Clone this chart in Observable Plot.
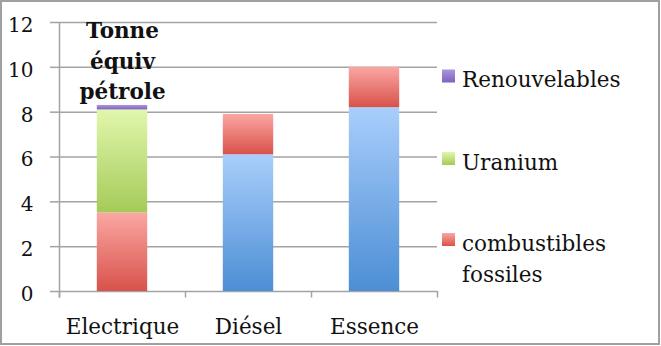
<!DOCTYPE html>
<html><head><meta charset="utf-8">
<script src="https://cdn.jsdelivr.net/npm/d3@7"></script>
<script src="https://cdn.jsdelivr.net/npm/@observablehq/plot@0.6"></script>
<style>body{margin:0;background:#fff} #chart{width:661px;height:346px}</style>
</head><body><div id="chart"></div>
<script>
const categories = ["Electrique", "Diésel", "Essence"];
const seriesKeys = ["petrole", "fossiles", "uranium", "renouvelables"];
const petrole = [0, 6.1, 8.2];
const fossiles = [3.5, 1.8, 1.8];
const uranium = [4.6, 0, 0];
const renouvelables = [0.2, 0, 0];
const yTicks = [0, 2, 4, 6, 8, 10, 12];
const titleLines = ["Tonne", "équiv", "pétrole"];
const legendKeys = ["renouvelables", "uranium", "fossiles"];
const legendLabels = [["Renouvelables"], ["Uranium"], ["combustibles", "fossiles"]];
const gradients = {
  petrole: ["#a9cefb", "#4c8ed5"],
  fossiles: ["#fba7a3", "#d8524a"],
  uranium: ["#e1f7ad", "#a5ca58"],
  renouvelables: ["#ab96dc", "#7e62bc"]
};

const series = {petrole, fossiles, uranium, renouvelables};
const data = seriesKeys.flatMap(k => categories.map((c, i) => ({cat: c, key: k, value: series[k][i]})))
  .filter(d => d.value > 0);

const W = 661, H = 346, mL = 59, mR = 224, mT = 22, mB = 55;
const step = (W - mL - mR) / categories.length;
const grid = "#a3a3a3";
const ink = "#111";
const font = "'DejaVu Serif', serif";

const chart = Plot.plot({
  width: W, height: H,
  marginLeft: mL, marginRight: mR, marginTop: mT, marginBottom: mB,
  style: {fontFamily: font, background: "#fff", color: ink},
  x: {domain: categories, paddingInner: 0.6, paddingOuter: 0.3, round: false, label: null},
  y: {domain: [0, 12], label: null},
  color: {type: "identity"},
  marks: [
    Plot.gridY(yTicks, {stroke: grid, strokeOpacity: 1, strokeWidth: 1.5}),
    Plot.axisY(yTicks, {tickSize: 9, stroke: grid, strokeWidth: 1.5, fill: "none", label: null}),
    Plot.axisY(yTicks, {tickSize: 9, tickPadding: 17, stroke: "none", fill: ink, fontSize: 20, dy: 3, label: null}),
    Plot.axisX({tickSize: 0, tickPadding: 27, fill: ink, fontSize: 21.5, label: null}),
    Plot.ruleX([categories[0]], {x: d => d, y1: 12, y2: 0, dx: -step / 2, insetBottom: -6.5, stroke: grid, strokeWidth: 1.5}),
    Plot.ruleX(categories, {x: d => d, y1: 0, y2: 0, dx: -step / 2, insetBottom: -6.5, stroke: grid, strokeWidth: 1.5}),
    Plot.ruleX([categories[categories.length - 1]], {x: d => d, y1: 0, y2: 0, dx: step / 2, insetBottom: -6.5, stroke: grid, strokeWidth: 1.5}),
    Plot.barY(data, Plot.stackY({x: "cat", y: "value", z: "key", fill: d => `url(#g-${d.key})`})),
    Plot.text([titleLines.join("\n")], {x: () => categories[0], frameAnchor: "top", lineAnchor: "top",
      fontSize: 21.5, fontWeight: "bold", lineHeight: 1.42, dy: -6, fill: ink})
  ]
});

const svg = d3.select(chart);
const defs = svg.insert("defs", ":first-child");
for (const [k, [c0, c1]] of Object.entries(gradients)) {
  const g = defs.append("linearGradient").attr("id", "g-" + k)
    .attr("x1", 0).attr("y1", 0).attr("x2", 0).attr("y2", 1);
  g.append("stop").attr("offset", "0%").attr("stop-color", c0);
  g.append("stop").attr("offset", "100%").attr("stop-color", c1);
}

const legend = svg.append("g").attr("font-family", font).attr("font-size", 21.5)
  .attr("fill", ink).attr("text-anchor", "start");
const legendTops = [69.5, 152, 233];
legendKeys.forEach((k, i) => {
  const top = legendTops[i];
  legend.append("rect").attr("x", 442).attr("y", top).attr("width", 13).attr("height", 13)
    .attr("fill", `url(#g-${k})`);
  const t = legend.append("text").attr("x", 462).attr("y", top + 17.5);
  legendLabels[i].forEach((line, j) => {
    t.append("tspan").attr("x", 462).attr("dy", j === 0 ? 0 : 31).text(line);
  });
});

svg.append("rect").attr("x", 1).attr("y", 1).attr("width", 658).attr("height", 343)
  .attr("fill", "none").attr("stroke", "#a0a0a0").attr("stroke-width", 2);

document.getElementById("chart").appendChild(chart);
</script>
</body></html>
